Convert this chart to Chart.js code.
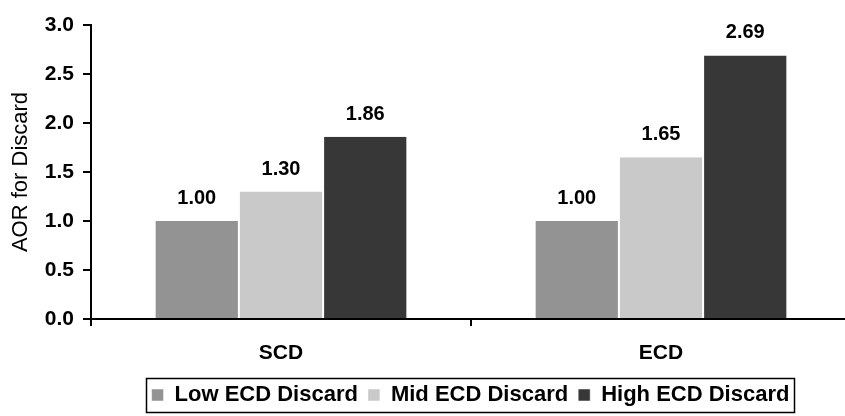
<!DOCTYPE html>
<html>
<head>
<meta charset="utf-8">
<script src="https://cdn.jsdelivr.net/npm/chart.js@4.4.1/dist/chart.umd.min.js"></script>
<style>
  html, body { margin: 0; padding: 0; background: #fff; overflow: hidden; }
  #wrap { position: relative; width: 937px; height: 416px; }
</style>
</head>
<body>
<div id="wrap"><canvas id="c" width="937" height="416"></canvas></div>
<script>
const categories = ['SCD', 'ECD'];
const seriesNames = ['Low ECD Discard', 'Mid ECD Discard', 'High ECD Discard'];
const lowValues = [1.00, 1.00];
const midValues = [1.30, 1.65];
const highValues = [1.86, 2.69];
const yTicks = [0, 0.5, 1.0, 1.5, 2.0, 2.5, 3.0];

const FONT = "'Liberation Sans', Arial, Helvetica, sans-serif";
const colors = ['#939393', '#c9c9c9', '#373737'];

// value labels above each bar
const valueLabels = {
  id: 'valueLabels',
  afterDatasetsDraw(chart) {
    const ctx = chart.ctx;
    ctx.save();
    ctx.font = 'bold 20px ' + FONT;
    ctx.fillStyle = '#000';
    ctx.textAlign = 'center';
    ctx.textBaseline = 'alphabetic';
    chart.data.datasets.forEach((ds, i) => {
      chart.getDatasetMeta(i).data.forEach((bar, j) => {
        ctx.fillText(ds.data[j].toFixed(2), bar.x, bar.y - 17);
      });
    });
    ctx.restore();
  }
};

// frame drawn around the legend
const legendFrame = {
  id: 'legendFrame',
  afterDraw(chart) {
    const boxes = chart.legend.legendHitBoxes;
    if (!boxes || !boxes.length) return;
    let l = Infinity, r = -Infinity, t = Infinity, b = -Infinity;
    boxes.forEach(h => {
      l = Math.min(l, h.left); r = Math.max(r, h.left + h.width);
      t = Math.min(t, h.top); b = Math.max(b, h.top + h.height);
    });
    const ctx = chart.ctx;
    ctx.save();
    ctx.strokeStyle = '#000';
    ctx.lineWidth = 1.5;
    const x0 = Math.round(l - 6), x1 = Math.round(r + 5);
    const y0 = Math.round(t - 6), y1 = Math.round(b + 6);
    ctx.strokeRect(x0 + 0.5, y0 + 0.5, x1 - x0, y1 - y0);
    ctx.restore();
  }
};

new Chart(document.getElementById('c'), {
  type: 'bar',
  data: {
    labels: categories,
    datasets: [
      { label: seriesNames[0], data: lowValues, backgroundColor: colors[0] },
      { label: seriesNames[1], data: midValues, backgroundColor: colors[1] },
      { label: seriesNames[2], data: highValues, backgroundColor: colors[2] }
    ].map(d => Object.assign(d, {
      borderColor: '#fff',
      borderWidth: { left: 1, right: 1, top: 0, bottom: 0 },
      borderSkipped: false,
      categoryPercentage: 0.665,
      barPercentage: 1.0
    }))
  },
  options: {
    responsive: false,
    animation: false,
    devicePixelRatio: 1,
    layout: { padding: { top: 25, right: 0, left: 4, bottom: 0 } },
    plugins: {
      legend: {
        position: 'bottom',
        labels: {
          font: { family: FONT, size: 22, weight: 'bold' },
          color: '#000',
          boxWidth: 12,
          boxHeight: 12,
          padding: 10
        }
      },
      tooltip: { enabled: false }
    },
    scales: {
      x: {
        offset: true,
        grid: { display: true, drawOnChartArea: false, drawTicks: true, tickLength: 7, color: '#000', lineWidth: 2, offset: true },
        border: { display: true, color: '#000', width: 2 },
        ticks: { font: { family: FONT, size: 21, weight: 'bold' }, color: '#000', padding: 15 },
        afterFit(scale) { scale.height = 55; }
      },
      y: {
        min: 0,
        max: 3,
        afterBuildTicks(scale) { scale.ticks = yTicks.map(v => ({ value: v })); },
        grid: { display: true, drawOnChartArea: false, drawTicks: true, tickLength: 8, color: '#000', lineWidth: 2 },
        border: { display: true, color: '#000', width: 2 },
        ticks: {
          font: { family: FONT, size: 21, weight: 'bold' },
          color: '#000',
          padding: 9,
          callback: v => Number(v).toFixed(1)
        },
        title: {
          display: true,
          text: 'AOR for Discard',
          font: { family: FONT, size: 22 },
          color: '#000',
          padding: { top: 4, bottom: 4 }
        },
        afterFit(scale) { scale.width = 87; }
      },
      // empty right-hand gutter so the plot runs past the page edge
      gutter: {
        type: 'linear',
        position: 'right',
        display: true,
        grid: { display: false },
        border: { display: false },
        ticks: { display: false },
        afterFit(scale) { scale.width = 86; }
      }
    }
  },
  plugins: [valueLabels, legendFrame]
});
</script>
</body>
</html>
